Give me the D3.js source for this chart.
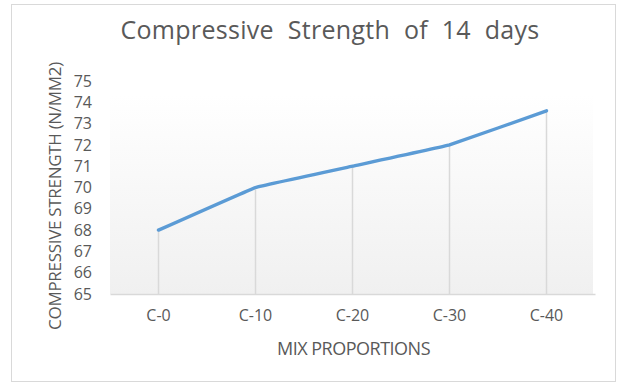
<!DOCTYPE html>
<html>
<head>
<meta charset="utf-8">
<script src="https://cdn.jsdelivr.net/npm/d3@7"></script>
<style>
  html, body { margin: 0; padding: 0; background: #fff; }
  svg { display: block; }
  text { font-family: "Open Sans", "Liberation Sans", sans-serif; fill: #595959; }
</style>
</head>
<body>
<svg id="chart" width="617" height="383"></svg>
<script>
// Compressive strength after 14 days for each mix
const categories = ["C-0", "C-10", "C-20", "C-30", "C-40"];
const strength = [68, 70, 71, 72, 73.6];
const yTicks = [65, 66, 67, 68, 69, 70, 71, 72, 73, 74, 75];

const titleText = "Compressive Strength of 14 days";
const xTitle = "MIX PROPORTIONS";
const yTitle = "COMPRESSIVE STRENGTH (N/MM2)";

const svg = d3.select("#chart");
const plot = { left: 110, right: 595, top: 81, bottom: 294 };

// chart frame
svg.append("rect")
  .attr("x", 11.5).attr("y", 4.5)
  .attr("width", 604).attr("height", 377)
  .attr("fill", "#fff").attr("stroke", "#d9d9d9").attr("stroke-width", 1);

// plot-area gradient
const defs = svg.append("defs");
const grad = defs.append("linearGradient").attr("id", "plotFill")
  .attr("x1", 0).attr("y1", 0).attr("x2", 0).attr("y2", 1);
grad.append("stop").attr("offset", "0%").attr("stop-color", "#ffffff");
grad.append("stop").attr("offset", "100%").attr("stop-color", "#f0f0f0");

const x = d3.scaleBand().domain(categories).range([plot.left, plot.right]);
const y = d3.scaleLinear().domain([65, 75]).range([plot.bottom, plot.top]);

svg.append("rect")
  .attr("x", plot.left).attr("y", 95)
  .attr("width", plot.right - plot.left - 2)
  .attr("height", plot.bottom - 95)
  .attr("fill", "url(#plotFill)");

const cx = d => x(d) + x.bandwidth() / 2;

// drop lines from each point to the baseline
svg.append("g").selectAll("line")
  .data(categories)
  .join("line")
  .attr("x1", d => cx(d)).attr("x2", d => cx(d))
  .attr("y1", (d, i) => y(strength[i]))
  .attr("y2", plot.bottom)
  .attr("stroke", "#d9d9d9").attr("stroke-width", 1.5);

// category axis
const xAxis = svg.append("g")
  .attr("transform", `translate(0,${plot.bottom})`)
  .call(d3.axisBottom(x).tickSize(0).tickPadding(16));
xAxis.select(".domain").attr("stroke", "#d9d9d9").attr("stroke-width", 1.5);
xAxis.selectAll("text")
  .style("font-size", "16px").attr("fill", "#595959");

// value axis (labels only)
const yAxis = svg.append("g")
  .attr("transform", `translate(${plot.left - 18},0)`)
  .call(d3.axisLeft(y).tickValues(yTicks).tickSize(0).tickPadding(0));
yAxis.select(".domain").remove();
yAxis.selectAll("text")
  .style("font-size", "16px").attr("fill", "#595959");

// strength line
svg.append("path")
  .datum(strength)
  .attr("fill", "none")
  .attr("stroke", "#5b9bd5")
  .attr("stroke-width", 3.4)
  .attr("stroke-linecap", "round")
  .attr("stroke-linejoin", "round")
  .attr("d", d3.line()
    .x((d, i) => cx(categories[i]))
    .y(d => y(d))
    .curve(d3.curveCardinal.tension(0.85)));

// titles
svg.append("text")
  .attr("x", 330).attr("y", 39)
  .attr("text-anchor", "middle")
  .style("font-size", "25px")
  .style("letter-spacing", "0.3px")
  .style("word-spacing", "7px")
  .text(titleText);

svg.append("text")
  .attr("x", (plot.left + plot.right) / 2 + 1).attr("y", 355)
  .attr("text-anchor", "middle")
  .style("font-size", "18px")
  .style("letter-spacing", "-0.5px")
  .text(xTitle);

svg.append("text")
  .attr("transform", `translate(61,196) rotate(-90)`)
  .attr("text-anchor", "middle")
  .style("font-size", "17px")
  .style("letter-spacing", "-0.3px")
  .text(yTitle);
</script>
</body>
</html>
